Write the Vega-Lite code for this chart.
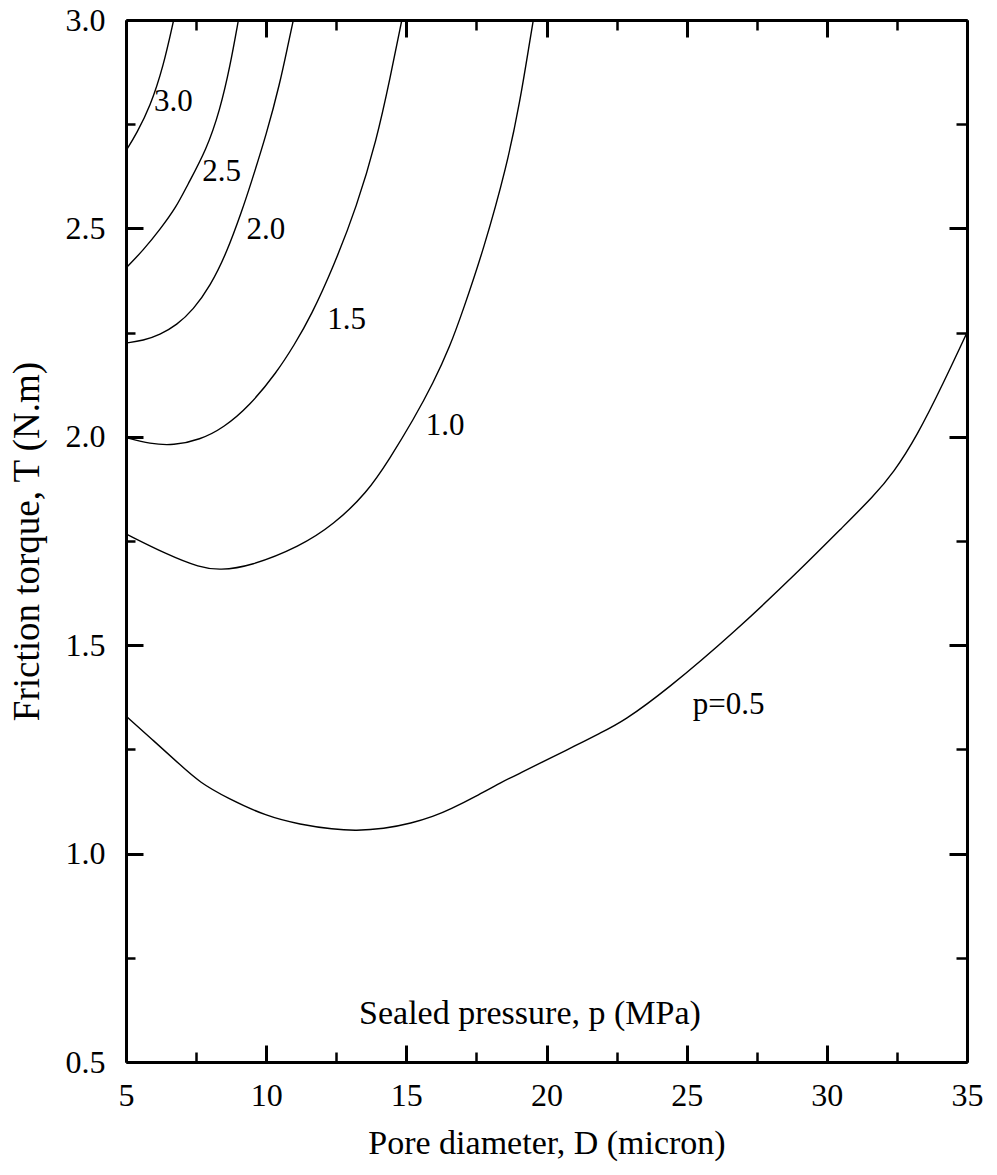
{
  "$schema": "https://vega.github.io/schema/vega-lite/v6.json",
  "width": 841,
  "height": 1042,
  "autosize": "none",
  "padding": {"left": 126, "top": 20, "right": 30, "bottom": 113},
  "background": "white",
  "config": {
    "view": {"stroke": null},
    "font": "'Liberation Serif', 'Times New Roman', 'DejaVu Serif', serif",
    "axis": {
      "grid": false,
      "domainColor": "black",
      "domainWidth": 3,
      "tickColor": "black",
      "tickWidth": 3,
      "labelColor": "black",
      "labelFont": "'Liberation Serif', 'Times New Roman', 'DejaVu Serif', serif",
      "labelFontSize": 32,
      "labelFlush": false,
      "labelOverlap": false,
      "titleColor": "black",
      "titleFont": "'Liberation Serif', 'Times New Roman', 'DejaVu Serif', serif",
      "titleFontWeight": "normal"
    }
  },
  "datasets": {
    "curves": [
      {"p": "0.5", "D": 5.0, "T": 1.33},
      {"p": "0.5", "D": 6.0, "T": 1.27},
      {"p": "0.5", "D": 6.93, "T": 1.213},
      {"p": "0.5", "D": 7.64, "T": 1.17},
      {"p": "0.5", "D": 8.59, "T": 1.134},
      {"p": "0.5", "D": 10.02, "T": 1.089},
      {"p": "0.5", "D": 11.21, "T": 1.07},
      {"p": "0.5", "D": 12.4, "T": 1.058},
      {"p": "0.5", "D": 13.2, "T": 1.055},
      {"p": "0.5", "D": 14.18, "T": 1.059},
      {"p": "0.5", "D": 15.2, "T": 1.073},
      {"p": "0.5", "D": 15.96, "T": 1.089},
      {"p": "0.5", "D": 16.56, "T": 1.106},
      {"p": "0.5", "D": 17.5, "T": 1.138},
      {"p": "0.5", "D": 18.35, "T": 1.17},
      {"p": "0.5", "D": 19.18, "T": 1.197},
      {"p": "0.5", "D": 20.13, "T": 1.229},
      {"p": "0.5", "D": 21.0, "T": 1.258},
      {"p": "0.5", "D": 21.91, "T": 1.289},
      {"p": "0.5", "D": 22.74, "T": 1.317},
      {"p": "0.5", "D": 24.29, "T": 1.393},
      {"p": "0.5", "D": 26.67, "T": 1.529},
      {"p": "0.5", "D": 29.05, "T": 1.681},
      {"p": "0.5", "D": 30.59, "T": 1.785},
      {"p": "0.5", "D": 31.66, "T": 1.857},
      {"p": "0.5", "D": 32.37, "T": 1.913},
      {"p": "0.5", "D": 33.21, "T": 2.001},
      {"p": "0.5", "D": 34.16, "T": 2.129},
      {"p": "0.5", "D": 35.0, "T": 2.25},

      {"p": "1.0", "D": 5.0, "T": 1.767},
      {"p": "1.0", "D": 6.45, "T": 1.718},
      {"p": "1.0", "D": 7.64, "T": 1.686},
      {"p": "1.0", "D": 8.35, "T": 1.680},
      {"p": "1.0", "D": 9.42, "T": 1.689},
      {"p": "1.0", "D": 11.21, "T": 1.737},
      {"p": "1.0", "D": 12.4, "T": 1.789},
      {"p": "1.0", "D": 13.59, "T": 1.865},
      {"p": "1.0", "D": 14.42, "T": 1.949},
      {"p": "1.0", "D": 15.25, "T": 2.041},
      {"p": "1.0", "D": 15.96, "T": 2.129},
      {"p": "1.0", "D": 16.56, "T": 2.217},
      {"p": "1.0", "D": 17.03, "T": 2.305},
      {"p": "1.0", "D": 17.75, "T": 2.448},
      {"p": "1.0", "D": 18.58, "T": 2.648},
      {"p": "1.0", "D": 19.06, "T": 2.806},
      {"p": "1.0", "D": 19.41, "T": 2.952},
      {"p": "1.0", "D": 19.53, "T": 3.0},

      {"p": "1.5", "D": 5.0, "T": 1.998},
      {"p": "1.5", "D": 5.86, "T": 1.983},
      {"p": "1.5", "D": 6.69, "T": 1.979},
      {"p": "1.5", "D": 7.64, "T": 1.993},
      {"p": "1.5", "D": 8.47, "T": 2.021},
      {"p": "1.5", "D": 9.42, "T": 2.075},
      {"p": "1.5", "D": 10.38, "T": 2.155},
      {"p": "1.5", "D": 11.0, "T": 2.22},
      {"p": "1.5", "D": 11.6, "T": 2.29},
      {"p": "1.5", "D": 12.4, "T": 2.408},
      {"p": "1.5", "D": 13.23, "T": 2.552},
      {"p": "1.5", "D": 13.94, "T": 2.712},
      {"p": "1.5", "D": 14.42, "T": 2.86},
      {"p": "1.5", "D": 14.84, "T": 3.0},

      {"p": "2.0", "D": 5.0, "T": 2.225},
      {"p": "2.0", "D": 5.62, "T": 2.231},
      {"p": "2.0", "D": 6.21, "T": 2.245},
      {"p": "2.0", "D": 6.81, "T": 2.268},
      {"p": "2.0", "D": 7.4, "T": 2.305},
      {"p": "2.0", "D": 8.0, "T": 2.361},
      {"p": "2.0", "D": 8.59, "T": 2.441},
      {"p": "2.0", "D": 9.15, "T": 2.545},
      {"p": "2.0", "D": 9.42, "T": 2.6},
      {"p": "2.0", "D": 10.02, "T": 2.728},
      {"p": "2.0", "D": 10.49, "T": 2.848},
      {"p": "2.0", "D": 10.79, "T": 2.944},
      {"p": "2.0", "D": 10.97, "T": 3.0},

      {"p": "2.5", "D": 5.0, "T": 2.405},
      {"p": "2.5", "D": 5.62, "T": 2.448},
      {"p": "2.5", "D": 6.21, "T": 2.497},
      {"p": "2.5", "D": 6.81, "T": 2.553},
      {"p": "2.5", "D": 7.16, "T": 2.6},
      {"p": "2.5", "D": 7.88, "T": 2.69},
      {"p": "2.5", "D": 8.35, "T": 2.784},
      {"p": "2.5", "D": 8.71, "T": 2.888},
      {"p": "2.5", "D": 9.01, "T": 3.0},

      {"p": "3.0", "D": 5.0, "T": 2.686},
      {"p": "3.0", "D": 5.38, "T": 2.728},
      {"p": "3.0", "D": 5.86, "T": 2.792},
      {"p": "3.0", "D": 6.33, "T": 2.888},
      {"p": "3.0", "D": 6.7, "T": 3.0}
    ],
    "curveLabels": [
      {"text": "3.0", "D": 6.69, "T": 2.804},
      {"text": "2.5", "D": 8.41, "T": 2.636},
      {"text": "2.0", "D": 9.99, "T": 2.496},
      {"text": "1.5", "D": 12.87, "T": 2.281},
      {"text": "1.0", "D": 16.38, "T": 2.025},
      {"text": "p=0.5", "D": 26.5, "T": 1.357}
    ],
    "legendTitle": [
      {"text": "Sealed pressure, p (MPa)", "D": 19.41, "T": 0.59}
    ]
  },
  "resolve": {"axis": {"x": "independent", "y": "independent"}},
  "layer": [
    {
      "data": {"name": "curves"},
      "transform": [{"filter": "datum.p != '0.5'"}],
      "mark": {"type": "line", "color": "black", "strokeWidth": 1.4, "interpolate": "basis"},
      "encoding": {
        "x": {
          "field": "D", "type": "quantitative",
          "scale": {"domain": [5, 35], "nice": false, "zero": false},
          "axis": {
            "orient": "bottom", "values": [5, 10, 15, 20, 25, 30, 35], "format": "d",
            "tickSize": -17, "labelPadding": 35,
            "title": "Pore diameter, D (micron)", "titleFontSize": 34,
            "titleBaseline": "alphabetic", "titleY": 91
          }
        },
        "y": {
          "field": "T", "type": "quantitative",
          "scale": {"domain": [0.5, 3.0], "nice": false, "zero": false},
          "axis": {
            "orient": "left", "values": [0.5, 1.0, 1.5, 2.0, 2.5, 3.0], "format": ".1f",
            "tickSize": -17, "labelPadding": 38,
            "title": "Friction torque, T (N.m)", "titleFontSize": 37,
            "titleBaseline": "alphabetic", "titleX": -88
          }
        },
        "detail": {"field": "p"}
      }
    },
    {
      "data": {"name": "curves"},
      "transform": [{"filter": "datum.p == '0.5'"}],
      "mark": {"type": "line", "color": "black", "strokeWidth": 1.4, "interpolate": "basis"},
      "encoding": {
        "x": {
          "field": "D", "type": "quantitative",
          "axis": {"orient": "top", "values": [5, 10, 15, 20, 25, 30, 35], "labels": false, "tickSize": -17, "title": null}
        },
        "y": {
          "field": "T", "type": "quantitative",
          "axis": {"orient": "right", "values": [0.5, 1.0, 1.5, 2.0, 2.5, 3.0], "labels": false, "tickSize": -18, "title": null}
        },
        "detail": {"field": "p"}
      }
    },
    {
      "data": {"name": "curveLabels"},
      "mark": {"type": "text", "color": "black", "fontSize": 31, "align": "center", "baseline": "middle"},
      "encoding": {
        "x": {
          "field": "D", "type": "quantitative",
          "axis": {"orient": "bottom", "values": [7.5, 12.5, 17.5, 22.5, 27.5, 32.5], "labels": false, "domain": false, "tickSize": -10, "tickWidth": 2.5, "title": null}
        },
        "y": {
          "field": "T", "type": "quantitative",
          "axis": {"orient": "left", "values": [0.75, 1.25, 1.75, 2.25, 2.75], "labels": false, "domain": false, "tickSize": -9, "tickWidth": 2.5, "title": null}
        },
        "text": {"field": "text"}
      }
    },
    {
      "data": {"name": "legendTitle"},
      "mark": {"type": "text", "color": "black", "fontSize": 34, "align": "center", "baseline": "alphabetic"},
      "encoding": {
        "x": {
          "field": "D", "type": "quantitative",
          "axis": {"orient": "top", "values": [7.5, 12.5, 17.5, 22.5, 27.5, 32.5], "labels": false, "domain": false, "tickSize": -10, "tickWidth": 2.5, "title": null}
        },
        "y": {
          "field": "T", "type": "quantitative",
          "axis": {"orient": "right", "values": [0.75, 1.25, 1.75, 2.25, 2.75], "labels": false, "domain": false, "tickSize": -11, "tickWidth": 2.5, "title": null}
        },
        "text": {"field": "text"}
      }
    }
  ]
}
